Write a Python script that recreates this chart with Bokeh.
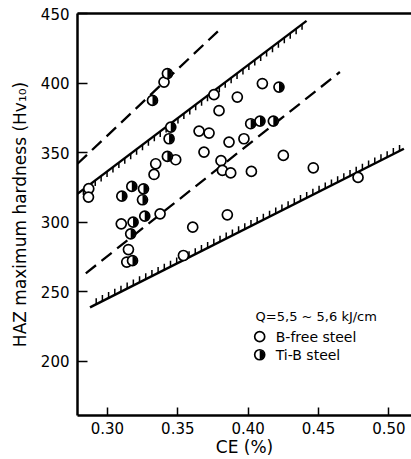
import numpy as np
from bokeh.plotting import figure
from bokeh.models import LinearAxis, FixedTicker
from bokeh.embed import file_html
from bokeh.resources import INLINE
from bokeh.core.properties import value

# ---- data ----
bfree_ce = [0.2867, 0.2865, 0.3331, 0.3343, 0.3485, 0.3098, 0.3374, 0.3149, 0.3137,
            0.3540, 0.3606, 0.3852, 0.3757, 0.3923, 0.3793, 0.4101, 0.3651, 0.3722,
            0.3864, 0.3970, 0.3686, 0.3807, 0.3817, 0.3876, 0.4023, 0.4250, 0.4463,
            0.4781, 0.3402]
bfree_hv = [324.0, 317.9, 334.2, 341.9, 344.8, 298.7, 305.9, 280.2, 271.2,
            275.9, 296.3, 305.2, 391.6, 389.9, 380.1, 399.6, 365.4, 364.0,
            357.5, 359.9, 350.3, 344.1, 337.1, 335.3, 336.4, 347.9, 339.0,
            332.1, 400.7]

tib_ce = [0.3102, 0.3173, 0.3256, 0.3249, 0.3265, 0.3182, 0.3165, 0.3178,
          0.3320, 0.3426, 0.3450, 0.3438, 0.3426, 0.4018, 0.4084, 0.4179, 0.4219]
tib_hv = [318.6, 325.6, 323.9, 316.0, 304.2, 299.9, 291.5, 272.2,
          387.5, 406.8, 368.3, 359.9, 347.2, 370.7, 372.6, 372.6, 397.1]

upper_dash_ce = [0.2787, 0.3793]
upper_dash_hv = [341.9, 438.0]
upper_hatch_ce = [0.2787, 0.4415]
upper_hatch_hv = [320.3, 444.7]
lower_dash_ce = [0.2846, 0.4652]
lower_dash_hv = [263.1, 407.9]
lower_hatch_ce = [0.2876, 0.5107]
lower_hatch_hv = [238.6, 352.7]

x_ticks = [0.30, 0.35, 0.40, 0.45, 0.50]
x_tick_labels = ["0.30", "0.35", "0.40", "0.45", "0.50"]
y_ticks = [200, 250, 300, 350, 400, 450]

legend_title = "Q=5,5 ~ 5,6 kJ/cm"
legend_labels = ["B-free steel", "Ti-B steel"]

FONT = "DejaVu Sans"

p = figure(width=411, height=459, x_range=(0.2787, 0.5161), y_range=(160.8, 450),
           output_backend="svg", toolbar_location=None,
           min_border_left=77, min_border_right=0, min_border_top=13, min_border_bottom=0,
           background_fill_color="white", border_fill_color="white")
p.outline_line_color = None
p.grid.visible = False

# axes styling
p.xaxis.ticker = FixedTicker(ticks=x_ticks)
p.xaxis.major_label_overrides = {t: l for t, l in zip(x_ticks, x_tick_labels)}
p.yaxis.ticker = FixedTicker(ticks=y_ticks)
p.xaxis.axis_label = "CE (%)"
p.yaxis.axis_label = "HAZ maximum hardness (Hv\u2081\u2080)"
for ax in (p.xaxis[0], p.yaxis[0]):
    ax.axis_line_width = 2.5
    ax.axis_line_color = "black"
    ax.major_tick_line_color = "black"
    ax.major_tick_line_width = 1.5
    ax.major_tick_out = 0
    ax.minor_tick_line_color = None
    ax.major_label_text_font = FONT
    ax.major_label_text_font_size = "15px"
    ax.major_label_text_color = "black"
    ax.axis_label_text_font = FONT
    ax.axis_label_text_font_size = "17px"
    ax.axis_label_text_font_style = "normal"
    ax.axis_label_text_color = "black"
p.yaxis.major_tick_in = 10
p.xaxis.major_tick_in = 8
p.yaxis.major_label_standoff = 8
p.yaxis.axis_label_standoff = 8
p.xaxis.major_label_standoff = 6
p.xaxis.axis_label_standoff = 0

top_axis = LinearAxis(axis_line_width=2.5, axis_line_color="black",
                      ticker=FixedTicker(ticks=[]),
                      major_tick_line_color=None, minor_tick_line_color=None,
                      major_label_standoff=0)
p.add_layout(top_axis, "above")

# lines
p.line(upper_dash_ce, upper_dash_hv, line_color="black", line_width=2.3, line_dash="13 7")
p.line(lower_dash_ce, lower_dash_hv, line_color="black", line_width=2.3, line_dash="13 7")
p.line(upper_hatch_ce, upper_hatch_hv, line_color="black", line_width=2.3)
p.line(lower_hatch_ce, lower_hatch_hv, line_color="black", line_width=2.5)


def hatch(ce, hv, step, length, direction):
    xs = np.arange(ce[0] + step, ce[1] - step / 3, step)
    ys = np.interp(xs, ce, hv)
    p.segment(xs, ys, xs, ys + direction * length, line_color="black", line_width=1.5)


hatch(upper_hatch_ce, upper_hatch_hv, 0.0042, 4.0, -1)
hatch(lower_hatch_ce, lower_hatch_hv, 0.0044, 4.3, 1)

# points
p.scatter(bfree_ce, bfree_hv, marker="circle", size=10, fill_color="white",
          line_color="black", line_width=1.7)
p.scatter(tib_ce, tib_hv, marker="circle", size=10, fill_color="white",
          line_color="black", line_width=1.7)
p.wedge(tib_ce, tib_hv, radius=4.6, radius_units="screen", start_angle=-np.pi / 2,
        end_angle=np.pi / 2, fill_color="black", line_color=None)

# legend (drawn in the plot)
lx_mark, lx_text = 0.4082, 0.4196
ly = [217.5, 204.5]
p.text([0.4053], [231.9], text=[legend_title], text_font=value(FONT),
       text_font_size="13px", text_baseline="middle", text_align="left", text_color="black")
p.text([lx_text, lx_text], ly, text=legend_labels, text_font=value(FONT),
       text_font_size="14px", text_baseline="middle", text_align="left", text_color="black")
p.scatter([lx_mark], [ly[0]], marker="circle", size=10, fill_color="white",
          line_color="black", line_width=1.7)
p.scatter([lx_mark], [ly[1]], marker="circle", size=10, fill_color="white",
          line_color="black", line_width=1.7)
p.wedge([lx_mark], [ly[1]], radius=4.6, radius_units="screen", start_angle=-np.pi / 2,
        end_angle=np.pi / 2, fill_color="black", line_color=None)

open("out.html", "w").write(file_html(p, INLINE))
